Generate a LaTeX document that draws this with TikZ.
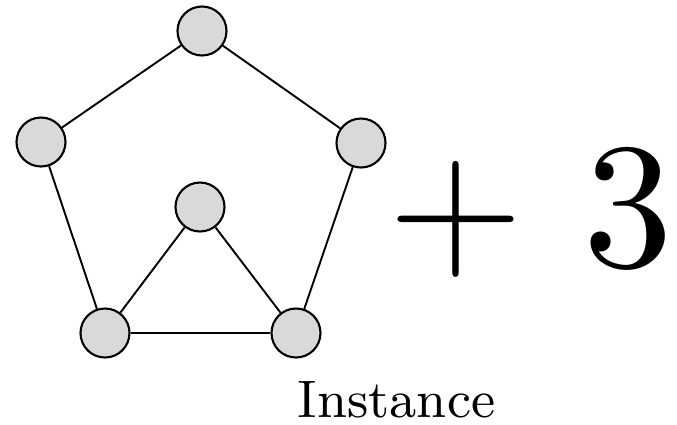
\documentclass[tikz,border=0pt]{standalone}
\usepackage{graphicx}
\begin{document}
\begin{tikzpicture}[x=1pt,y=-1pt,
  vtx/.style={circle,draw=black,fill=gray!30,line width=2.1pt,minimum size=49pt,inner sep=0pt},
  edge/.style={line width=1.9pt}]
\useasboundingbox (0,0) rectangle (677,424);
\node[vtx] (t) at (202,31) {};
\node[vtx] (l) at (41,142) {};
\node[vtx] (r) at (361,143) {};
\node[vtx] (m) at (200,207) {};
\node[vtx] (bl) at (105,333) {};
\node[vtx] (br) at (296,333) {};
\draw[edge] (t) -- (l);
\draw[edge] (t) -- (r);
\draw[edge] (l) -- (bl);
\draw[edge] (r) -- (br);
\draw[edge] (bl) -- (br);
\draw[edge] (m) -- (bl);
\draw[edge] (m) -- (br);
\node[inner sep=0pt] (plus) at (456.5,219.5) {\scalebox{10.7}{\fontsize{17.28}{17.28}\selectfont $+$}};
\node[inner sep=0pt] (three) at (628.5,208.5) {\scalebox{17.9}{\fontsize{10}{10}\selectfont 3}};
\node[inner sep=0pt,anchor=base] (lbl) at (396.5,417) {\scalebox{5.86}{\fontsize{9}{9}\selectfont Instance}};
\end{tikzpicture}
\end{document}
